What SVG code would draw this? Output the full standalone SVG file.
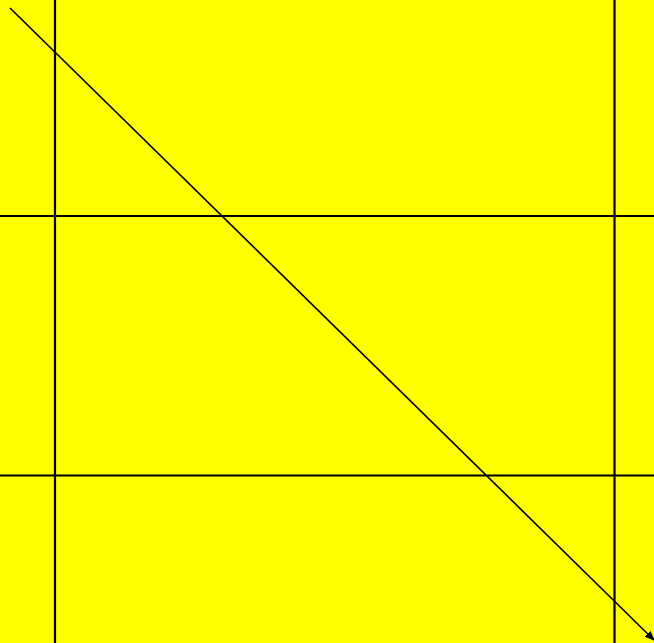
<svg xmlns="http://www.w3.org/2000/svg" width="654" height="643" viewBox="0 0 654 643">
  <defs>
    <marker id="arrow" markerWidth="10" markerHeight="8" refX="9" refY="4" orient="auto" markerUnits="userSpaceOnUse">
      <path d="M0,0 L10,4 L0,8 Z" fill="#000"/>
    </marker>
    <style>
      .grid { stroke: #000; stroke-width: 2.2; fill: none; }
      .diag { stroke: #000; stroke-width: 1.6; fill: none; }
    </style>
  </defs>
  <rect x="0" y="0" width="654" height="643" fill="#ffff00"/>
  <g id="grid">
    <line class="grid" x1="55" y1="0" x2="55" y2="643"/>
    <line class="grid" x1="614.5" y1="0" x2="614.5" y2="643"/>
    <line class="grid" x1="0" y1="216" x2="654" y2="216"/>
    <line class="grid" x1="0" y1="475.5" x2="654" y2="475.5"/>
  </g>
  <g id="connectors">
    <line class="diag" x1="10" y1="8" x2="654" y2="640" marker-end="url(#arrow)"/>
  </g>
</svg>
